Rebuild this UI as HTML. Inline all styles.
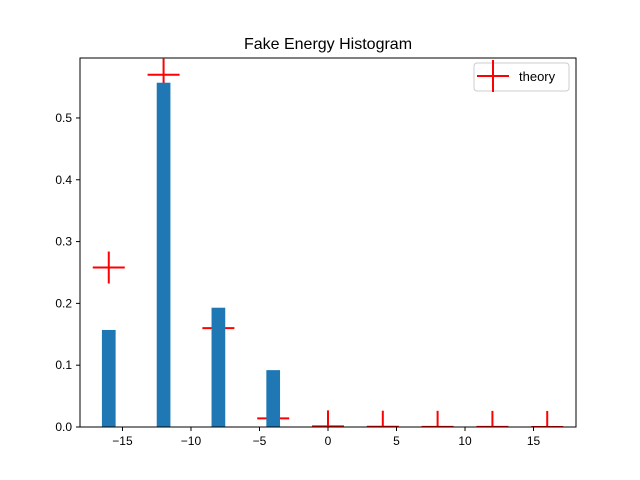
<!DOCTYPE html>
<html><head><meta charset="utf-8"><style>
body{margin:0;background:#fff;}
svg{display:block;font-family:"Liberation Sans","DejaVu Sans",sans-serif;}
</style></head><body>
<svg id="chart" width="640" height="480">
<rect x="0" y="0" width="640" height="480" fill="#fff"/>
<text x="328" y="49" font-size="16" text-anchor="middle">Fake Energy Histogram</text>
<defs><clipPath id="clip"><rect x="80" y="58" width="496" height="369"/></clipPath></defs>
<g id="marks" clip-path="url(#clip)"></g>
<g id="bars" clip-path="url(#clip)"></g>
<g id="axes"></g>
<rect x="80" y="58" width="496" height="369" fill="none" stroke="#000" stroke-width="1"/>
<g>
<rect x="474" y="63" width="95" height="28" rx="3" fill="#fff" stroke="#ccc"/>
<line x1="477" y1="76" x2="509" y2="76" stroke="red" stroke-width="2"/>
<line x1="493" y1="60" x2="493" y2="92" stroke="red" stroke-width="2"/>
<text x="519" y="81" font-size="13">theory</text>
</g>
</svg>
<script>
const barX=[-16,-12,-8,-4,0,4,8,12,16];
const barH=[0.157,0.557,0.193,0.092,0,0,0,0,0];
const theoryX=[-16,-12,-8,-4,0,4,8,12,16];
const theoryY=[0.258,0.570,0.160,0.014,0.001,0.0005,0.0003,0.0002,0.0001];
const xTicks=[-15,-10,-5,0,5,10,15];
const yTicks=[0,0.1,0.2,0.3,0.4,0.5];
const X0=80,X1=576,Y0=427,Y1=58,xmin=-18.1,xmax=18.1,ymin=0,ymax=0.597;
const sx=v=>X0+(v-xmin)/(xmax-xmin)*(X1-X0);
const sy=v=>Y0-(v-ymin)/(ymax-ymin)*(Y0-Y1);
const NS="http://www.w3.org/2000/svg";
function mk(t,a,p){const e=document.createElementNS(NS,t);for(const k in a)e.setAttribute(k,a[k]);p.appendChild(e);return e;}
const bars=document.getElementById('bars'),marks=document.getElementById('marks'),axes=document.getElementById('axes');
barX.forEach((x,i)=>{
 const r=mk('rect',{x:sx(x-0.5),y:sy(barH[i]),width:sx(x+0.5)-sx(x-0.5),height:sy(0)-sy(barH[i]),fill:'#1f77b4'},bars);
 
 
});
theoryX.forEach((x,i)=>{
 const g=mk('g',{},marks);
 
 
 const cx=sx(x),cy=sy(theoryY[i]);
 mk('line',{x1:cx-16,y1:cy,x2:cx+16,y2:cy,stroke:'red','stroke-width':2},g);
 mk('line',{x1:cx,y1:cy-16,x2:cx,y2:cy+16,stroke:'red','stroke-width':2},g);
});
xTicks.forEach(t=>{
 const x=sx(t);
 mk('line',{x1:x,y1:Y0,x2:x,y2:Y0+4,stroke:'#000'},axes);
 const tx=mk('text',{x:x,y:Y0+18,'font-size':12,'text-anchor':'middle'},axes);
 tx.textContent=t<0?'\u2212'+(-t):String(t);
 
 
});
yTicks.forEach(t=>{
 const y=sy(t);
 mk('line',{x1:X0,y1:y,x2:X0-4,y2:y,stroke:'#000'},axes);
 const tx=mk('text',{x:X0-8,y:y+4,'font-size':12,'text-anchor':'end'},axes);
 tx.textContent=t.toFixed(1);
 
 
});
</script>
</body></html>
